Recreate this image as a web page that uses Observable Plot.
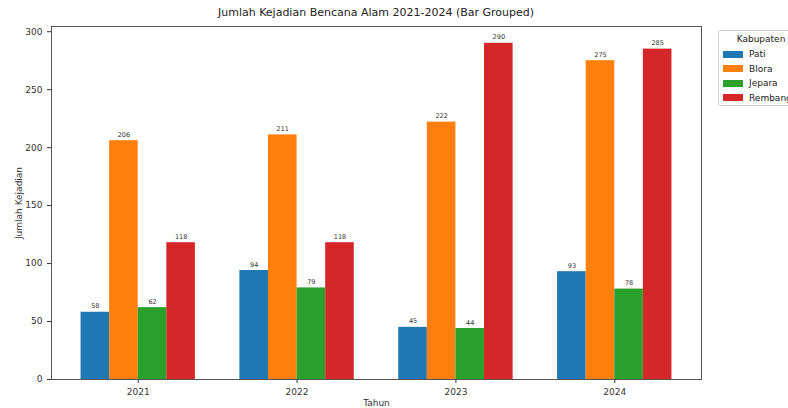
<!DOCTYPE html>
<html>
<head>
<meta charset="utf-8">
<script src="https://cdn.jsdelivr.net/npm/d3@7"></script>
<script src="https://cdn.jsdelivr.net/npm/@observablehq/plot@0.6"></script>
<style>
  html, body { margin: 0; padding: 0; background: #fff; overflow: hidden; }
  #wrap { position: relative; width: 788px; height: 408px; font-family: "DejaVu Sans", sans-serif; }
  #title { position: absolute; left: 51px; width: 650px; top: 6px; text-align: center; font-size: 11px; color: #222; }
  #legend { position: absolute; left: 718px; top: 30px; width: 90px; height: 76px; border: 1px solid #d0d0d0; border-radius: 3px; background: #fff; font-size: 9px; color: #222; box-sizing: border-box; }
  #legend .lt { text-align: center; margin-top: 3px; width: 84px; }
  #legend .row { position: absolute; left: 4px; height: 10px; display: flex; align-items: center; white-space: nowrap; }
  #legend .sw { width: 20px; height: 7px; margin-right: 6px; }
</style>
</head>
<body>
<div id="wrap">
  <div id="title">Jumlah Kejadian Bencana Alam 2021-2024 (Bar Grouped)</div>
  <div id="chart"></div>
  <div id="legend"><div class="lt">Kabupaten</div></div>
</div>
<script>
const years = [2021, 2022, 2023, 2024];
const kabupaten = ["Pati", "Blora", "Jepara", "Rembang"];
const pati = [58, 94, 45, 93];
const blora = [206, 211, 222, 275];
const jepara = [62, 79, 44, 78];
const rembang = [118, 118, 290, 285];
const colors = ["#1f77b4", "#ff7f0e", "#2ca02c", "#d62728"];
const yTicks = [0, 50, 100, 150, 200, 250, 300];
const barWidth = 0.18;

const series = [pati, blora, jepara, rembang];
const data = [];
years.forEach((yr, i) => kabupaten.forEach((k, j) => {
  const x1 = yr + (j - 2) * barWidth;
  data.push({tahun: yr, kab: k, value: series[j][i], x1, x2: x1 + barWidth, xc: x1 + barWidth / 2});
}));

// matplotlib-like 5% margins
const xmin = years[0] - 2 * barWidth, xmax = years[years.length - 1] + 2 * barWidth;
const xpad = (xmax - xmin) * 0.05;
const ymax = d3.max(data, d => d.value) * 1.05;

const chart = Plot.plot({
  width: 788,
  height: 408,
  marginLeft: 51,
  marginRight: 87,
  marginTop: 26,
  marginBottom: 29,
  style: {fontFamily: "DejaVu Sans, sans-serif", fontSize: "9px", color: "#333", background: "transparent"},
  x: {domain: [xmin - xpad, xmax + xpad], ticks: years, tickFormat: d => String(d), tickSize: 4, label: "Tahun", labelAnchor: "center", labelArrow: "none", labelOffset: 26},
  y: {domain: [0, ymax], ticks: yTicks, tickSize: 4, label: "Jumlah Kejadian", labelAnchor: "center", labelArrow: "none", labelOffset: 36},
  color: {domain: kabupaten, range: colors},
  marks: [
    Plot.rectY(data, {x1: "x1", x2: "x2", y: "value", fill: "kab", inset: 0}),
    Plot.text(data, {x: "xc", y: "value", text: d => String(d.value), dy: -6, fontSize: 6.5, fill: "#333"}),
    Plot.frame({stroke: "#444", strokeWidth: 0.9})
  ]
});
document.getElementById("chart").appendChild(chart);

const legend = document.getElementById("legend");
kabupaten.forEach((k, j) => {
  const row = document.createElement("div");
  row.className = "row";
  row.style.top = (18 + j * 14.5) + "px";
  const sw = document.createElement("div");
  sw.className = "sw";
  sw.style.background = colors[j];
  const lb = document.createElement("span");
  lb.textContent = k;
  row.appendChild(sw); row.appendChild(lb);
  legend.appendChild(row);
});
</script>
</body>
</html>
